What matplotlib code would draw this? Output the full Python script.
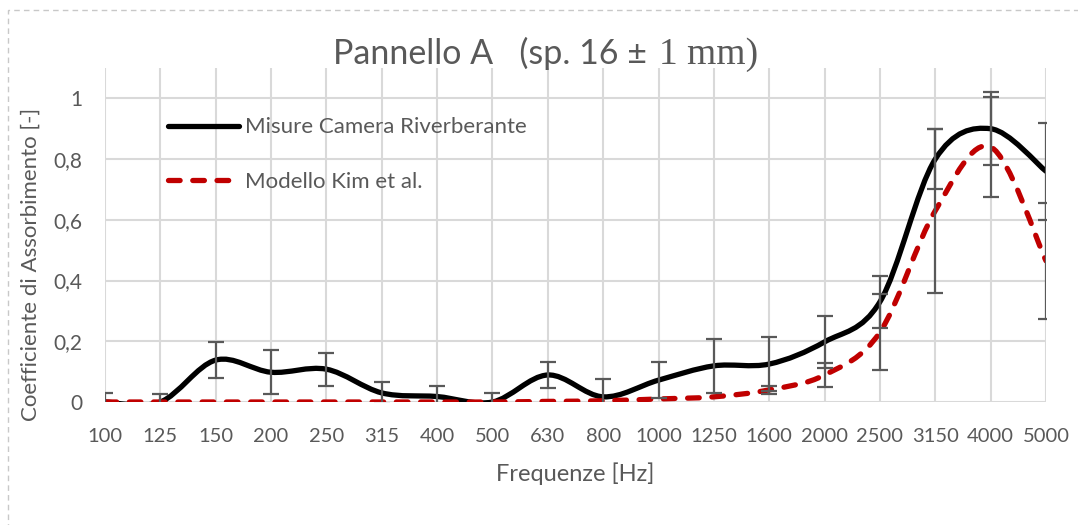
#!/usr/bin/env python3

# import modules
from matplotlib import pyplot as plt
from matplotlib.path import Path
from matplotlib.patches import PathPatch, Rectangle
from matplotlib.lines import Line2D
import numpy as np

# data
freqs = ['100', '125', '150', '200', '250', '315', '400', '500', '630', '800',
         '1000', '1250', '1600', '2000', '2500', '3150', '4000', '5000']
misure = [0.0, 0.0, 0.138, 0.098, 0.108, 0.03, 0.018, 0.0, 0.089, 0.017,
          0.072, 0.119, 0.125, 0.198, 0.33, 0.8, 0.9, 0.76]
misure_err = [0.03, 0.027, 0.06, 0.073, 0.054, 0.035, 0.035, 0.03, 0.043, 0.058,
              0.06, 0.09, 0.09, 0.085, 0.085, 0.1, 0.12, 0.16]
modello = [0.0, 0.0, 0.0, 0.0, 0.0, 0.0, 0.0, 0.0, 0.002, 0.004,
           0.01, 0.017, 0.04, 0.089, 0.23, 0.63, 0.84, 0.465]
modello_err = [0, 0, 0, 0, 0, 0, 0, 0, 0, 0,
               0, 0, 0.014, 0.039, 0.125, 0.27, 0.165, 0.19]

FONT = 'Lato'
GRAY = '#595959'
RED = '#C00000'


def smooth_path(x, y):
	# Catmull-Rom style smoothing (like Excel's "smoothed line") as bezier segments
	x = np.asarray(x, float)
	y = np.asarray(y, float)
	pts = np.column_stack([x, y])
	verts = [pts[0]]
	codes = [Path.MOVETO]
	n = len(pts)
	for i in range(n - 1):
		p0 = pts[max(i - 1, 0)]
		p1 = pts[i]
		p2 = pts[i + 1]
		p3 = pts[min(i + 2, n - 1)]
		c1 = p1 + (p2 - p0) / 6.0
		c2 = p2 - (p3 - p1) / 6.0
		verts += [c1, c2, p2]
		codes += [Path.CURVE4] * 3
	return Path(verts, codes)


fig = plt.figure(figsize=(10.78, 5.25), dpi=100)
ax = fig.add_axes([105 / 1078, 1 - 402 / 525, (1046 - 105) / 1078, (402 - 68) / 525])

xs = np.arange(len(freqs))

# grid
ax.set_xlim(0, len(freqs) - 1)
ax.set_ylim(0, 1.1)
ax.set_xticks(xs)
ax.set_xticklabels(freqs)
ax.set_yticks([0, 0.2, 0.4, 0.6, 0.8, 1.0])
ax.set_yticklabels(['0', '0,2', '0,4', '0,6', '0,8', '1'])
ax.grid(True, color='#d9d9d9', linewidth=1.5)
ax.set_axisbelow(True)
for s in ax.spines.values():
	s.set_visible(False)
ax.tick_params(axis='x', length=0, pad=19, labelsize=14.5, labelcolor=GRAY)
ax.tick_params(axis='y', length=0, pad=16.5, labelsize=15, labelcolor=GRAY)
for lab in ax.get_xticklabels() + ax.get_yticklabels():
	lab.set_family(FONT)

# curves
ax.add_patch(PathPatch(smooth_path(xs, misure), facecolor='none', edgecolor='black',
                       linewidth=3.8, capstyle='round', joinstyle='round', zorder=3))
ax.add_patch(PathPatch(smooth_path(xs, modello), facecolor='none', edgecolor=RED,
                       linewidth=3.8, linestyle=(0, (2.2, 2.4)), capstyle='round', zorder=3))

# error bars
ax.errorbar(xs, misure, yerr=misure_err, fmt='none', ecolor=GRAY, elinewidth=1.6,
            capsize=5.5, capthick=1.6, zorder=4)
me = np.array(modello_err)
sel = me > 0
ax.errorbar(xs[sel], np.array(modello)[sel], yerr=me[sel], fmt='none', ecolor=GRAY,
            elinewidth=1.6, capsize=5.5, capthick=1.6, zorder=4)

# legend
h1 = Line2D([], [], color='black', linewidth=3.8, solid_capstyle='round')
h2 = Line2D([], [], color=RED, linewidth=3.8, linestyle=(0, (2.2, 2.4)), dash_capstyle='round')
leg = ax.legend([h1, h2], ['Misure Camera Riverberante', 'Modello Kim et al.'],
                loc='upper left', bbox_to_anchor=(0.067, 0.852), frameon=False,
                borderpad=0, borderaxespad=0,
                handlelength=3.2, handletextpad=0.28, labelspacing=1.55,
                prop={'family': FONT, 'size': 16})
for t in leg.get_texts():
	t.set_color(GRAY)

# labels
ax.set_xlabel('Frequenze [Hz]', family=FONT, fontsize=17, color=GRAY, labelpad=12)
ax.set_ylabel('Coefficiente di Assorbimento [-]', family=FONT, fontsize=16, color=GRAY)
ax.yaxis.set_label_coords(-0.068, 0.413)

# title in two fonts
fig.text(647 / 1078, 1 - 64 / 525, 'Pannello A   (sp. 16 \u00b1', family=FONT, fontsize=24.5,
         color=GRAY, ha='right', va='baseline')
fig.text(659 / 1078, 1 - 64 / 525, '1 mm)', family='Liberation Serif', fontsize=27,
         color=GRAY, ha='left', va='baseline')

# dashed chart border
fig.patches.append(Rectangle((8 / 1078, -0.1), 1.2, 1 - 10 / 525 + 0.1, transform=fig.transFigure,
                             fill=False, edgecolor='#c8c8c8', linewidth=1, linestyle=(0, (4, 3))))

# write to disk
plt.savefig('out.png', dpi=100)
